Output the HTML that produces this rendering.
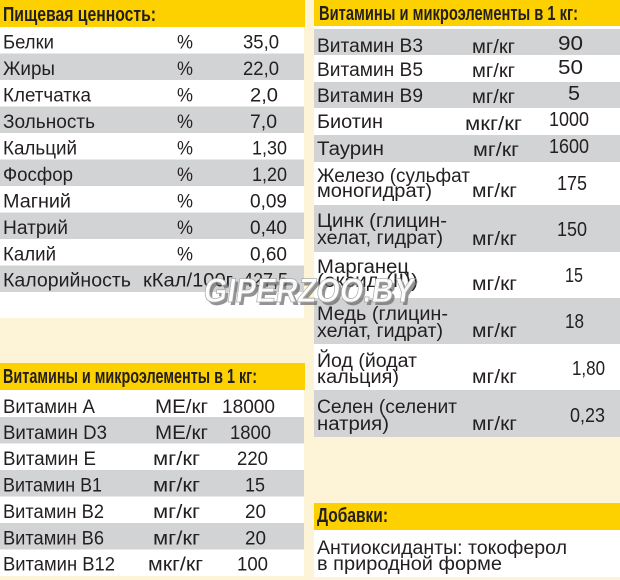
<!DOCTYPE html>
<html>
<head>
<meta charset="utf-8">
<style>
html,body{margin:0;padding:0;background:#FDF3D6;}
svg{display:block;}
text{font-family:"Liberation Sans","DejaVu Sans",sans-serif;fill:#231F20;font-size:19px;}
.b{font-weight:bold;font-size:20px;}
</style>
</head>
<body>
<svg width="620" height="580" viewBox="0 0 620 580" xmlns="http://www.w3.org/2000/svg">
<rect x="0" y="0" width="620" height="580" fill="#FDF3D6"/>
<!-- Left top panel -->
<rect x="0" y="0" width="304" height="318" fill="#ffffff"/>
<rect x="0" y="0" width="305" height="27" fill="#FDD000"/>
<rect x="0" y="53.5" width="304" height="26.5" fill="#D2D3D5"/>
<rect x="0" y="106.5" width="304" height="26.5" fill="#D2D3D5"/>
<rect x="0" y="159.5" width="304" height="26.5" fill="#D2D3D5"/>
<rect x="0" y="212.5" width="304" height="26.5" fill="#D2D3D5"/>
<rect x="0" y="265.5" width="304" height="26.5" fill="#D2D3D5"/>
<!-- Left bottom panel -->
<rect x="0" y="363" width="305" height="27" fill="#FDD000"/>
<rect x="0" y="390" width="304" height="186" fill="#ffffff"/>
<rect x="0" y="417" width="304" height="26.5" fill="#D2D3D5"/>
<rect x="0" y="470" width="304" height="26.5" fill="#D2D3D5"/>
<rect x="0" y="523" width="304" height="26.5" fill="#D2D3D5"/>
<!-- Right panel -->
<rect x="314" y="26" width="306" height="364" fill="#ffffff"/>
<rect x="314" y="0" width="306" height="26" fill="#FDD000"/>
<rect x="314" y="29" width="306" height="26" fill="#D2D3D5"/>
<rect x="314" y="82" width="306" height="26" fill="#D2D3D5"/>
<rect x="314" y="135" width="306" height="27" fill="#D2D3D5"/>
<rect x="314" y="205" width="306" height="47" fill="#D2D3D5"/>
<rect x="314" y="298" width="306" height="46" fill="#D2D3D5"/>
<rect x="314" y="390" width="306" height="47" fill="#D2D3D5"/>
<rect x="314" y="503" width="306" height="27" fill="#FDD000"/>
<rect x="314" y="530" width="306" height="47" fill="#ffffff"/>

<!-- Left top text -->
<text class="b" x="3" y="21" textLength="153" lengthAdjust="spacingAndGlyphs">Пищевая ценность:</text>
<text x="3" y="48.5" textLength="51" lengthAdjust="spacingAndGlyphs">Белки</text>
<text x="3" y="75" textLength="52" lengthAdjust="spacingAndGlyphs">Жиры</text>
<text x="3" y="101.5" textLength="88" lengthAdjust="spacingAndGlyphs">Клетчатка</text>
<text x="3" y="128" textLength="92" lengthAdjust="spacingAndGlyphs">Зольность</text>
<text x="3" y="154.5" textLength="74" lengthAdjust="spacingAndGlyphs">Кальций</text>
<text x="3" y="181" textLength="70" lengthAdjust="spacingAndGlyphs">Фосфор</text>
<text x="3" y="207.5" textLength="68" lengthAdjust="spacingAndGlyphs">Магний</text>
<text x="3" y="234" textLength="65" lengthAdjust="spacingAndGlyphs">Натрий</text>
<text x="3" y="260.5" textLength="53" lengthAdjust="spacingAndGlyphs">Калий</text>
<text x="3" y="286.5" textLength="128" lengthAdjust="spacingAndGlyphs">Калорийность</text>

<text x="177" y="48.5" textLength="16" lengthAdjust="spacingAndGlyphs">%</text>
<text x="177" y="75" textLength="16" lengthAdjust="spacingAndGlyphs">%</text>
<text x="177" y="101.5" textLength="16" lengthAdjust="spacingAndGlyphs">%</text>
<text x="177" y="128" textLength="16" lengthAdjust="spacingAndGlyphs">%</text>
<text x="177" y="154.5" textLength="16" lengthAdjust="spacingAndGlyphs">%</text>
<text x="177" y="181" textLength="16" lengthAdjust="spacingAndGlyphs">%</text>
<text x="177" y="207.5" textLength="16" lengthAdjust="spacingAndGlyphs">%</text>
<text x="177" y="234" textLength="16" lengthAdjust="spacingAndGlyphs">%</text>
<text x="177" y="260.5" textLength="16" lengthAdjust="spacingAndGlyphs">%</text>
<text x="143" y="286.5" textLength="90" lengthAdjust="spacingAndGlyphs">кКал/100г</text>

<text x="243" y="48.5" textLength="36" lengthAdjust="spacingAndGlyphs">35,0</text>
<text x="243" y="75" textLength="36" lengthAdjust="spacingAndGlyphs">22,0</text>
<text x="250" y="101.5" textLength="28" lengthAdjust="spacingAndGlyphs">2,0</text>
<text x="250" y="128" textLength="27" lengthAdjust="spacingAndGlyphs">7,0</text>
<text x="252" y="154.5" textLength="35" lengthAdjust="spacingAndGlyphs">1,30</text>
<text x="252" y="181" textLength="35" lengthAdjust="spacingAndGlyphs">1,20</text>
<text x="250" y="207.5" textLength="37" lengthAdjust="spacingAndGlyphs">0,09</text>
<text x="250" y="234" textLength="37" lengthAdjust="spacingAndGlyphs">0,40</text>
<text x="250" y="260.5" textLength="37" lengthAdjust="spacingAndGlyphs">0,60</text>
<text x="243" y="286.5" textLength="45" lengthAdjust="spacingAndGlyphs">427,5</text>

<!-- Left bottom text -->
<text class="b" x="3" y="383" textLength="254" lengthAdjust="spacingAndGlyphs">Витамины и микроэлементы в 1 кг:</text>
<text x="3" y="413" textLength="92" lengthAdjust="spacingAndGlyphs">Витамин A</text>
<text x="3" y="439" textLength="104" lengthAdjust="spacingAndGlyphs">Витамин D3</text>
<text x="3" y="465" textLength="93" lengthAdjust="spacingAndGlyphs">Витамин E</text>
<text x="3" y="491.5" textLength="99" lengthAdjust="spacingAndGlyphs">Витамин B1</text>
<text x="3" y="518" textLength="101" lengthAdjust="spacingAndGlyphs">Витамин B2</text>
<text x="3" y="544.5" textLength="101" lengthAdjust="spacingAndGlyphs">Витамин B6</text>
<text x="3" y="570.5" textLength="112" lengthAdjust="spacingAndGlyphs">Витамин B12</text>

<text x="155" y="413" textLength="53" lengthAdjust="spacingAndGlyphs">МЕ/кг</text>
<text x="155" y="439" textLength="53" lengthAdjust="spacingAndGlyphs">МЕ/кг</text>
<text x="153" y="465" textLength="47" lengthAdjust="spacingAndGlyphs">мг/кг</text>
<text x="153" y="491.5" textLength="47" lengthAdjust="spacingAndGlyphs">мг/кг</text>
<text x="153" y="518" textLength="47" lengthAdjust="spacingAndGlyphs">мг/кг</text>
<text x="153" y="544.5" textLength="47" lengthAdjust="spacingAndGlyphs">мг/кг</text>
<text x="148" y="570.5" textLength="55" lengthAdjust="spacingAndGlyphs">мкг/кг</text>

<text x="222" y="413" textLength="53" lengthAdjust="spacingAndGlyphs">18000</text>
<text x="230" y="439" textLength="41" lengthAdjust="spacingAndGlyphs">1800</text>
<text x="237" y="465" textLength="31" lengthAdjust="spacingAndGlyphs">220</text>
<text x="245" y="491.5" textLength="20" lengthAdjust="spacingAndGlyphs">15</text>
<text x="245" y="518" textLength="21" lengthAdjust="spacingAndGlyphs">20</text>
<text x="245" y="544.5" textLength="21" lengthAdjust="spacingAndGlyphs">20</text>
<text x="237" y="570.5" textLength="31" lengthAdjust="spacingAndGlyphs">100</text>

<!-- Right text -->
<text class="b" x="319" y="20" textLength="259" lengthAdjust="spacingAndGlyphs">Витамины и микроэлементы в 1 кг:</text>
<text x="317" y="52" textLength="106" lengthAdjust="spacingAndGlyphs">Витамин B3</text>
<text x="317" y="76" textLength="106" lengthAdjust="spacingAndGlyphs">Витамин B5</text>
<text x="317" y="102" textLength="106" lengthAdjust="spacingAndGlyphs">Витамин B9</text>
<text x="317" y="128" textLength="66" lengthAdjust="spacingAndGlyphs">Биотин</text>
<text x="317" y="155" textLength="67" lengthAdjust="spacingAndGlyphs">Таурин</text>

<text x="472" y="53" textLength="43" lengthAdjust="spacingAndGlyphs">мг/кг</text>
<text x="472" y="77" textLength="43" lengthAdjust="spacingAndGlyphs">мг/кг</text>
<text x="472" y="103" textLength="43" lengthAdjust="spacingAndGlyphs">мг/кг</text>
<text x="465" y="130" textLength="57" lengthAdjust="spacingAndGlyphs">мкг/кг</text>
<text x="473" y="156" textLength="46" lengthAdjust="spacingAndGlyphs">мг/кг</text>

<text x="558" y="50" style="font-size:20px" textLength="25" lengthAdjust="spacingAndGlyphs">90</text>
<text x="558" y="74" style="font-size:20px" textLength="25" lengthAdjust="spacingAndGlyphs">50</text>
<text x="568" y="100" style="font-size:20px" textLength="12" lengthAdjust="spacingAndGlyphs">5</text>
<text x="549" y="126" style="font-size:20px" textLength="40" lengthAdjust="spacingAndGlyphs">1000</text>
<text x="549" y="153" style="font-size:20px" textLength="40" lengthAdjust="spacingAndGlyphs">1600</text>

<text x="317" y="182" textLength="153" lengthAdjust="spacingAndGlyphs">Железо (сульфат</text>
<text x="317" y="197" textLength="115" lengthAdjust="spacingAndGlyphs">моногидрат)</text>
<text x="472" y="197" textLength="45" lengthAdjust="spacingAndGlyphs">мг/кг</text>
<text x="557" y="190" style="font-size:20px" textLength="30" lengthAdjust="spacingAndGlyphs">175</text>

<text x="317" y="227" textLength="130" lengthAdjust="spacingAndGlyphs">Цинк (глицин-</text>
<text x="317" y="244" textLength="126" lengthAdjust="spacingAndGlyphs">хелат, гидрат)</text>
<text x="472" y="245" textLength="45" lengthAdjust="spacingAndGlyphs">мг/кг</text>
<text x="557" y="236" style="font-size:20px" textLength="30" lengthAdjust="spacingAndGlyphs">150</text>

<text x="317" y="273" textLength="92" lengthAdjust="spacingAndGlyphs">Марганец</text>
<text x="317" y="287" textLength="101" lengthAdjust="spacingAndGlyphs">(оксид-(II))</text>
<text x="472" y="290" textLength="45" lengthAdjust="spacingAndGlyphs">мг/кг</text>
<text x="565" y="282" style="font-size:20px" textLength="18" lengthAdjust="spacingAndGlyphs">15</text>

<text x="317" y="320" textLength="131" lengthAdjust="spacingAndGlyphs">Медь (глицин-</text>
<text x="317" y="337" textLength="126" lengthAdjust="spacingAndGlyphs">хелат, гидрат)</text>
<text x="472" y="337" textLength="45" lengthAdjust="spacingAndGlyphs">мг/кг</text>
<text x="565" y="328" style="font-size:20px" textLength="19" lengthAdjust="spacingAndGlyphs">18</text>

<text x="317" y="367" textLength="100" lengthAdjust="spacingAndGlyphs">Йод (йодат</text>
<text x="317" y="383" textLength="82" lengthAdjust="spacingAndGlyphs">кальция)</text>
<text x="472" y="383" textLength="45" lengthAdjust="spacingAndGlyphs">мг/кг</text>
<text x="572" y="375" style="font-size:20px" textLength="33" lengthAdjust="spacingAndGlyphs">1,80</text>

<text x="317" y="413" textLength="140" lengthAdjust="spacingAndGlyphs">Селен (селенит</text>
<text x="317" y="430" textLength="72" lengthAdjust="spacingAndGlyphs">натрия)</text>
<text x="472" y="430" textLength="45" lengthAdjust="spacingAndGlyphs">мг/кг</text>
<text x="570" y="422" style="font-size:20px" textLength="35" lengthAdjust="spacingAndGlyphs">0,23</text>

<text class="b" x="317" y="522" textLength="71" lengthAdjust="spacingAndGlyphs">Добавки:</text>
<text x="317" y="554" textLength="250" lengthAdjust="spacingAndGlyphs">Антиоксиданты: токоферол</text>
<text x="317" y="570" textLength="185" lengthAdjust="spacingAndGlyphs">в природной форме</text>

<!-- Watermark -->
<g transform="skewX(-8)">
<text x="248" y="305" style="font-size:34px;font-weight:bold;fill:#6f6f6f;opacity:0.75" textLength="210" lengthAdjust="spacingAndGlyphs">GIPERZOO.BY</text>
<text x="245" y="302" style="font-size:34px;font-weight:bold;fill:#ffffff;stroke:#a8a8a8;stroke-width:0.8;opacity:0.95" textLength="210" lengthAdjust="spacingAndGlyphs">GIPERZOO.BY</text>
</g>
</svg>
</body>
</html>
